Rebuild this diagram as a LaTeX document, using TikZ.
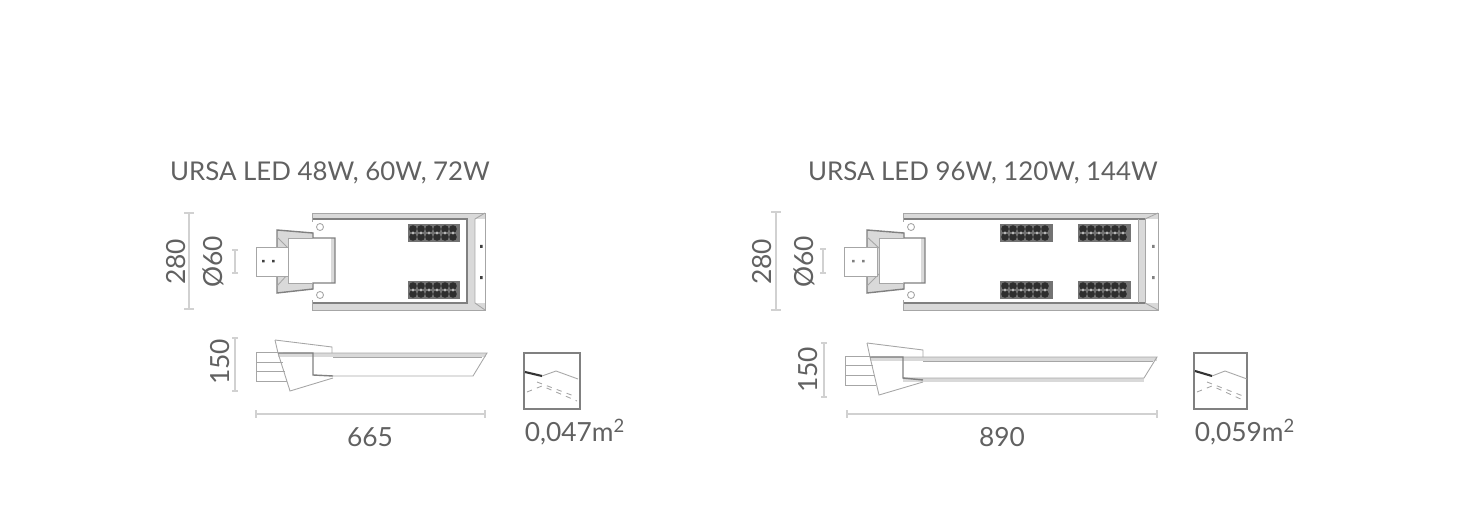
\documentclass[tikz,border=0pt]{standalone}
\usepackage{fontspec}
\setmainfont{Lato}
\tikzset{
	title/.style={text=black!62,font=\fontsize{14.7}{16}\selectfont,inner sep=0pt},
	dimtext/.style={text=black!62,font=\fontsize{15}{16}\selectfont,inner sep=0pt},
	dimline/.style={draw=black!18,line width=0.8pt},
	wall/.style={draw=black!50,line width=0.8pt},
	thin wall/.style={draw=black!35,line width=0.5pt},
	band/.style={fill=black!15,draw=none},
	bolt/.style={fill=black!75,draw=none},
	frame/.style={draw=black!50,line width=1pt},
	lens/.style={fill=black!82,draw=none},
	lens hole/.style={fill=black!28,draw=none}
}
\begin{document}
\begin{tikzpicture}[x=0.02cm,y=-0.02cm]
	\useasboundingbox (0,0) rectangle (1467,520);
	% left lamp, plan
	\path (330,173) node[title] (titleA) {URSA LED 48W, 60W, 72W};
	\fill[band] (312,213) rectangle (485,219);
	\fill[band] (312,303) rectangle (485,310);
	\fill[band] (467,219) rectangle (475,303);
	\draw[wall] (312,219) -- (467,219) -- (467,303) -- (312,303);
	\draw[thin wall] (312,213) -- (485,213) -- (485,310) -- (312,310);
	\draw[thin wall] (312,213) -- (312,222) (312,300) -- (312,310);
	\draw[thin wall] (475,219) -- (485,213) (475,303) -- (485,310) (475,219) -- (475,303);
	\draw[thin wall] (320,227) circle (3.5) (320,295) circle (3.5);
	\fill[band] (277,230) -- (313,233) -- (313,238) -- (288,238) -- (288,283) -- (313,283) -- (313,289) -- (277,293) -- cycle;
	\fill[band] (331,238) rectangle (335,283);
	\draw[wall] (277,230) -- (313,233) -- (313,238) -- (335,238) -- (335,283) -- (313,283) -- (313,289) -- (277,293) -- cycle;
	\draw[thin wall] (288,238) -- (313,238) (288,238) -- (288,283) -- (313,283);
	\draw[thin wall] (277,237) -- (288,248) (277,286) -- (288,274);
	\draw[thin wall,fill=white] (256,247) rectangle (288,276);
	\fill[bolt] (262,260) rectangle +(2.5,2.5) (272,260) rectangle +(2.5,2.5);
	\fill[bolt] (480,245) rectangle +(2.5,3) (480,276) rectangle +(2.5,3);
	\foreach \y in {224,281}{
		\fill[black!55] (408,\y) rectangle (460,\y+18);
		\foreach \x in {413,421,...,455}{
			\fill[lens] (\x,\y+5) circle (3.8) (\x,\y+13) circle (3.8);
			\fill[lens hole] (\x,\y+9) circle (1.6);
		}
	}
	% left lamp, side
	\fill[band] (278,353) rectangle (486,357);
	\draw[thin wall] (278,353) -- (487,353) -- (473,376) -- (333,376);
	\draw[thin wall] (333,357) -- (482,357);
	\draw[thin wall] (275,340) -- (332,347) -- (332,353);
	\draw[thin wall] (275,340) -- (278,353) -- (290,391) -- (333,378);
	\draw[wall] (278,353) -- (313,353) -- (313,375) -- (333,376);
	\draw[thin wall] (256,352) -- (283,352) (256,362) -- (283,362) (256,371) -- (285,371) (256,381) -- (287,381) (256,352) -- (256,381);
	% left lamp, dimensions
	\draw[dimline] (189,213) -- (189,309) (184,213) -- (194,213) (184,309) -- (194,309);
	\draw[dimline] (235,250) -- (235,273) (232,250) -- (238,250) (232,273) -- (238,273);
	\draw[dimline] (235,338) -- (235,391) (232,338) -- (238,338) (232,391) -- (238,391);
	\draw[dimline] (256,414) -- (485,414) (256,410) -- (256,418) (485,410) -- (485,418);
	\path (176,262) node[dimtext,rotate=90] (heightA) {280};
	\path (213,262) node[dimtext,rotate=90] (boreA) {Ø60};
	\path (220,362) node[dimtext,rotate=90] (depthA) {150};
	\path (370,437) node[dimtext] (lengthA) {665};
	% left lamp, wind area
	\draw[frame] (524,353) rectangle (580,409);
	\draw[black!80,line width=1.2pt] (525,372) -- (542,376);
	\draw[thin wall] (542,376) -- (556,371) -- (578,379);
	\draw[thin wall,dashed] (537,382) -- (574,396) (527,392) -- (542,386) -- (577,401);
	\path (575,432) node[dimtext] (areaA) {0,047m\textsuperscript{2}};
	% right lamp, plan
	\path (983,173) node[title] (titleB) {URSA LED 96W, 120W, 144W};
	\fill[band] (903,213) rectangle (1158,219);
	\fill[band] (903,303) rectangle (1158,310);
	\fill[band] (1138,219) rectangle (1145,303);
	\draw[wall] (903,219) -- (1145,219) (903,303) -- (1145,303);
	\draw[thin wall] (1138,219) -- (1138,303) (1145,219) -- (1145,303);
	\draw[thin wall] (903,213) -- (1158,213) -- (1158,310) -- (903,310);
	\draw[thin wall] (903,213) -- (903,222) (903,300) -- (903,310);
	\draw[thin wall] (1145,219) -- (1158,213) (1145,303) -- (1158,310);
	\draw[thin wall] (911,227) circle (3.5) (911,295) circle (3.5);
	\fill[band] (867,230) -- (904,233) -- (904,238) -- (879,238) -- (879,283) -- (904,283) -- (904,289) -- (867,293) -- cycle;
	\fill[band] (921,238) rectangle (925,283);
	\draw[wall] (867,230) -- (904,233) -- (904,238) -- (925,238) -- (925,283) -- (904,283) -- (904,289) -- (867,293) -- cycle;
	\draw[thin wall] (879,238) -- (904,238) (879,238) -- (879,283) -- (904,283);
	\draw[thin wall] (867,237) -- (879,248) (867,286) -- (879,274);
	\draw[thin wall,fill=white] (844,247) rectangle (877,276);
	\fill[black!50] (852,260) rectangle +(2.5,2.5) (862,260) rectangle +(2.5,2.5);
	\fill[black!50] (1152,245) rectangle +(2.5,3) (1152,276) rectangle +(2.5,3);
	\foreach \xx in {1000,1078}{
		\foreach \y in {224,281}{
			\fill[black!55] (\xx,\y) rectangle (\xx+53,\y+18);
			\foreach \x in {5,13,...,48}{
				\fill[lens] (\xx+\x,\y+5) circle (3.8) (\xx+\x,\y+13) circle (3.8);
				\fill[lens hole] (\xx+\x,\y+9) circle (1.6);
			}
		}
	}
	% right lamp, side
	\fill[band] (870,357) rectangle (1157,361);
	\fill[band] (903,378) rectangle (1144,382);
	\draw[thin wall] (870,357) -- (1157,357) -- (1144,378) -- (903,378);
	\draw[thin wall] (923,361) -- (1153,361);
	\draw[thin wall] (867,343) -- (923,350) -- (923,357);
	\draw[thin wall] (867,343) -- (870,357) -- (879,395) -- (923,382);
	\draw[wall] (870,357) -- (903,357) -- (903,378) -- (923,380);
	\draw[thin wall] (845,356) -- (872,356) (845,365) -- (873,365) (845,375) -- (874,375) (845,385) -- (876,385) (845,356) -- (845,385);
	% right lamp, dimensions
	\draw[dimline] (776,212) -- (776,310) (771,212) -- (781,212) (771,310) -- (781,310);
	\draw[dimline] (823,249) -- (823,273) (820,249) -- (826,249) (820,273) -- (826,273);
	\draw[dimline] (824,343) -- (824,397) (821,343) -- (827,343) (821,397) -- (827,397);
	\draw[dimline] (847,414) -- (1157,414) (847,410) -- (847,418) (1157,410) -- (1157,418);
	\path (762,262) node[dimtext,rotate=90] (heightB) {280};
	\path (804,262) node[dimtext,rotate=90] (boreB) {Ø60};
	\path (808,370) node[dimtext,rotate=90] (depthB) {150};
	\path (1002,437) node[dimtext] (lengthB) {890};
	% right lamp, wind area
	\draw[frame] (1194,353) rectangle (1247,409);
	\draw[black!80,line width=1.2pt] (1195,371) -- (1212,376);
	\draw[thin wall] (1212,376) -- (1225,371) -- (1247,379);
	\draw[thin wall,dashed] (1207,382) -- (1243,396) (1197,392) -- (1212,386) -- (1245,401);
	\path (1245,432) node[dimtext] (areaB) {0,059m\textsuperscript{2}};
\end{tikzpicture}
\end{document}
